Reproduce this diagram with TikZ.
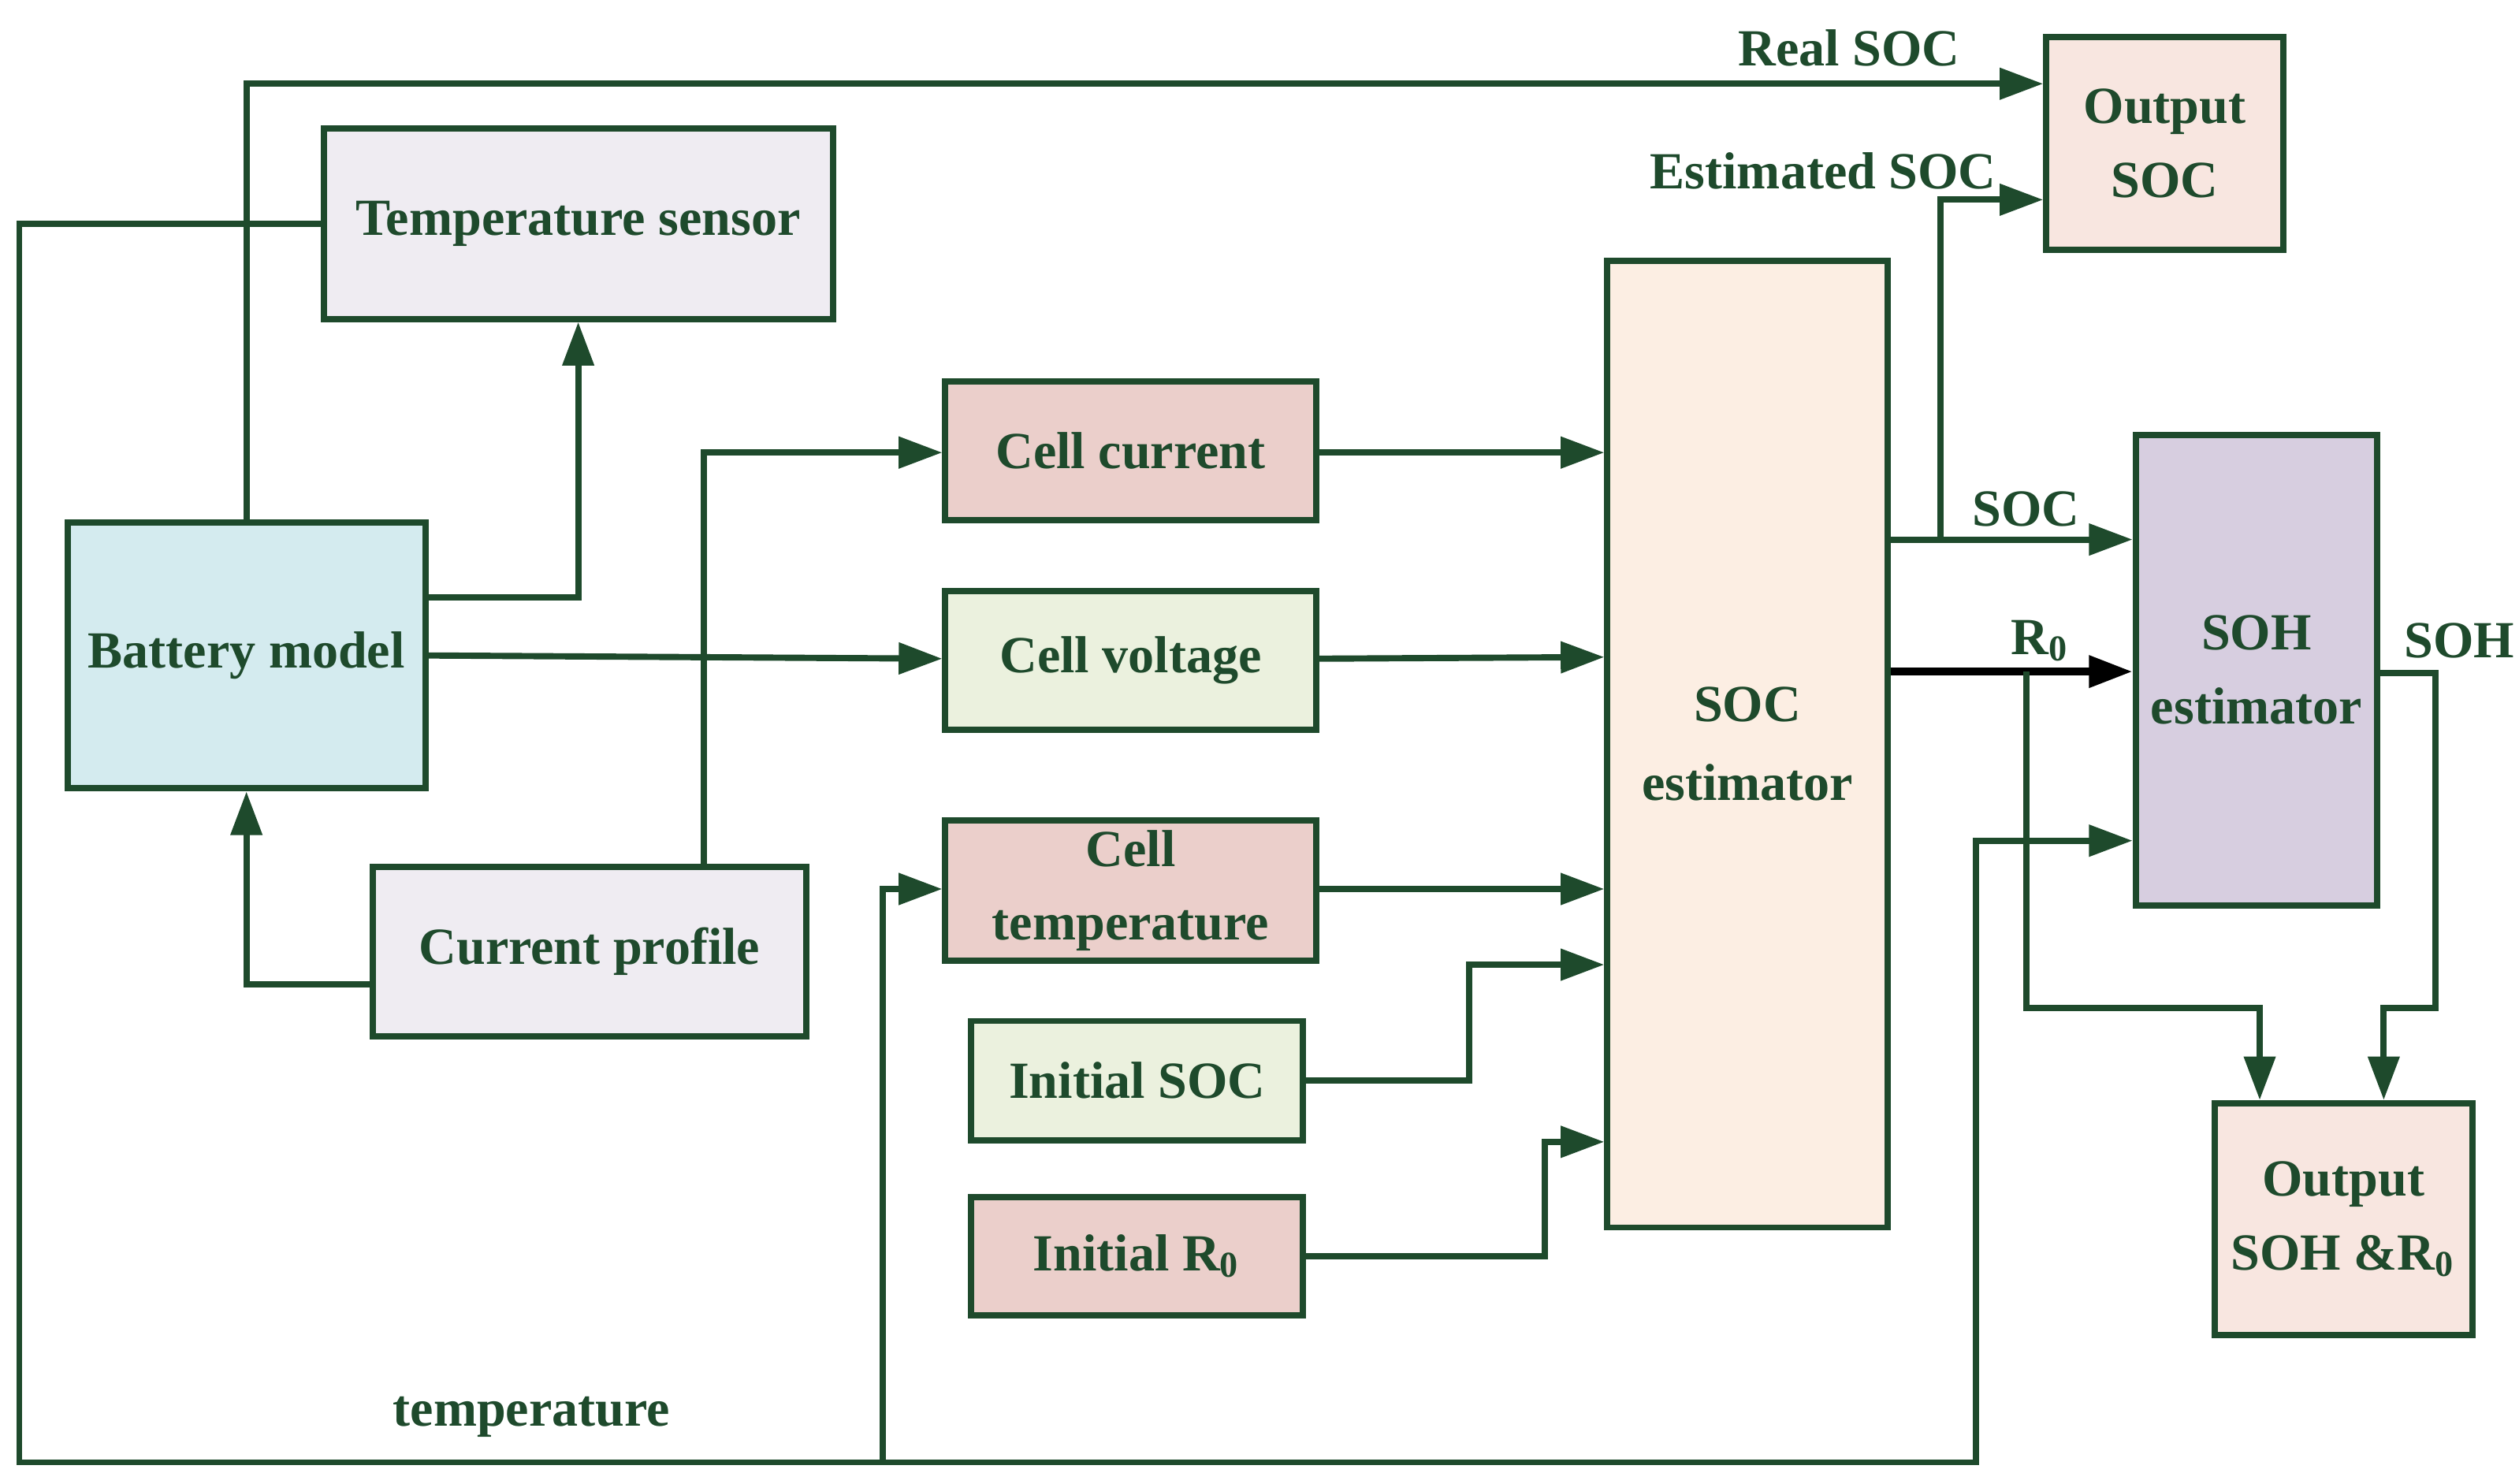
\documentclass[tikz,border=0pt]{standalone}
\usepackage{fontspec}
\setmainfont{Liberation Serif}
\usetikzlibrary{arrows.meta,positioning}
\definecolor{dkg}{HTML}{1E4A2C}
\definecolor{lav}{HTML}{EFECF2}
\definecolor{blu}{HTML}{D4EBEF}
\definecolor{pnk}{HTML}{EBCFCB}
\definecolor{grn}{HTML}{EBF1DE}
\definecolor{peach}{HTML}{FCEEE3}
\definecolor{rose}{HTML}{F8E6E0}
\definecolor{purp}{HTML}{D7CEE0}
\begin{document}
\begin{tikzpicture}[x=0.01cm,y=-0.01cm,
    box/.style={draw=dkg,line width=1.1pt,text=dkg,font=\fontsize{9.2}{11}\selectfont\bfseries,align=center,inner sep=0pt},
    lbl/.style={text=dkg,font=\fontsize{9.2}{11}\selectfont\bfseries,inner sep=0pt},
    wire/.style={draw=dkg,line width=1.1pt},
    arr/.style={wire,-{Triangle[length=0.27cm,width=0.19cm]}}]
  \useasboundingbox (0,0) rectangle (1564,921);
  % blocks
  \node[box,fill=lav,minimum width=3.16cm,minimum height=1.18cm]   (sensor)  at (359,139)  {Temperature sensor};
  \node[box,fill=blu,minimum width=2.22cm,minimum height=1.65cm]   (battery) at (153,407)  {Battery model};
  \node[box,fill=lav,minimum width=2.69cm,minimum height=1.05cm]   (profile) at (366,591)  {Current profile};
  \node[box,fill=pnk,minimum width=2.30cm,minimum height=0.86cm]   (current) at (702,280)  {Cell current};
  \node[box,fill=grn,minimum width=2.30cm,minimum height=0.86cm]   (voltage) at (702,410)  {Cell voltage};
  \node[box,fill=pnk,minimum width=2.30cm,minimum height=0.87cm]   (celltemp) at (702,553) {Cell\\[2pt]temperature};
  \node[box,fill=grn,minimum width=2.06cm,minimum height=0.74cm]   (initsoc) at (706,671)  {Initial SOC};
  \node[box,fill=pnk,minimum width=2.06cm,minimum height=0.73cm]   (initr)   at (706,780)  {Initial R$_\mathbf{0}$};
  \node[box,fill=peach,minimum width=1.74cm,minimum height=6.00cm] (socest)  at (1085,462) {SOC\\[3pt]estimator};
  \node[box,fill=rose,minimum width=1.47cm,minimum height=1.32cm]  (outsoc)  at (1344,89)  {Output\\[2pt]SOC};
  \node[box,fill=purp,minimum width=1.50cm,minimum height=2.92cm]  (sohest)  at (1401,416) {SOH\\[2pt]estimator};
  \node[box,fill=rose,minimum width=1.60cm,minimum height=1.44cm]  (outsoh)  at (1455,757) {Output\\[2pt]SOH \&R$_\mathbf{0}$};
  % connectors
  \draw[arr] (battery.north) |- (outsoc.west |- 0,52);
  \draw[arr] (sensor.west) -| (12,908) -| (1227,522) -- (sohest.west |- 0,522);
  \draw[arr] (548,908) |- (celltemp.west |- 0,552);
  \draw[arr] (battery.east |- 0,371) -| (sensor.south);
  \draw[arr] (battery.east |- 0,407) -- (voltage.west |- 0,409);
  \draw[arr] (profile.west |- 0,611) -| (battery.south);
  \draw[arr] (profile.north -| 437,0) |- (current.west |- 0,281);
  \draw[arr] (current.east |- 0,281) -- (socest.west |- 0,281);
  \draw[arr] (voltage.east |- 0,409) -- (socest.west |- 0,408);
  \draw[arr] (celltemp.east |- 0,552) -- (socest.west |- 0,552);
  \draw[arr] (initsoc.east) -| (912,599) -- (socest.west |- 0,599);
  \draw[arr] (initr.east) -| (959,709) -- (socest.west |- 0,709);
  \draw[arr] (socest.east |- 0,335) -- (sohest.west |- 0,335);
  \draw[arr] (1205,335) |- (outsoc.west |- 0,124);
  \draw[line width=1.4pt,-{Triangle[length=0.27cm,width=0.19cm]}] (socest.east |- 0,417) -- (sohest.west |- 0,417);
  \draw[arr] (1258,417) |- (1403,626) -- (outsoh.north -| 1403,0);
  \draw[arr] (sohest.east |- 0,418) -| (1512,626) -| (outsoh.north -| 1480,0);
  % labels
  \node[lbl] (lreal)  at (1148,30)  {Real SOC};
  \node[lbl] (lest)   at (1132,106) {Estimated SOC};
  \node[lbl] (lsoc)   at (1258,316) {SOC};
  \node[lbl] (lr)     at (1267,398) {R$_\mathbf{0}$};
  \node[lbl] (lsoh)   at (1527,398) {SOH};
  \node[lbl] (ltemp)  at (330,880)  {temperature};
\end{tikzpicture}
\end{document}
